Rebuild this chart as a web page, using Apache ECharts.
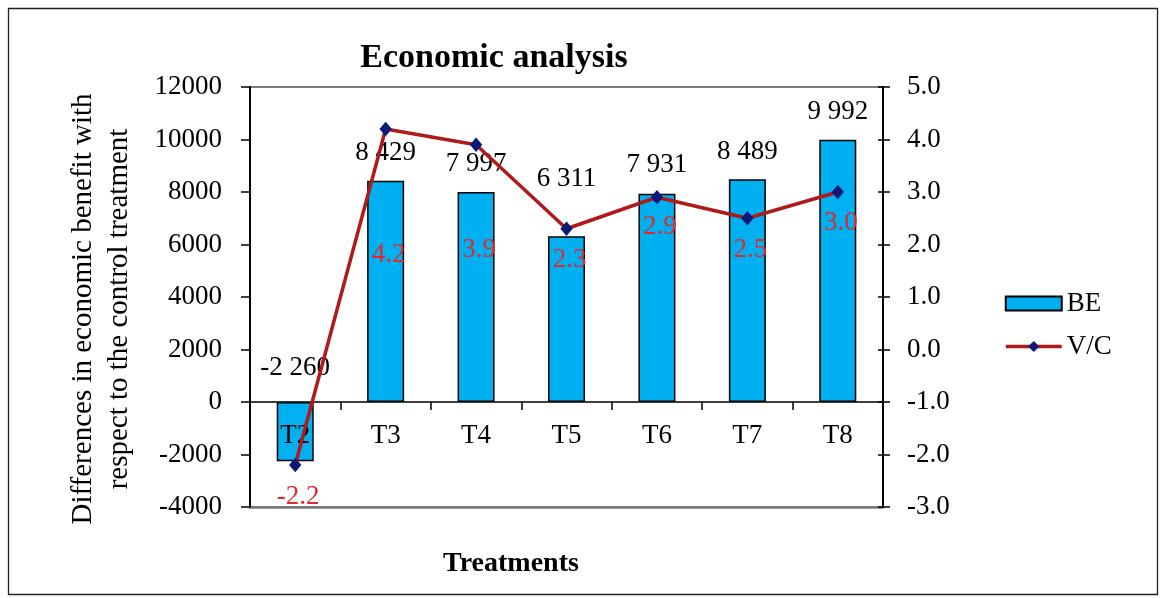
<!DOCTYPE html>
<html>
<head>
<meta charset="utf-8">
<title>Economic analysis</title>
<script src="https://cdn.jsdelivr.net/npm/echarts@6/dist/echarts.min.js"></script>
<style>
  html, body { margin: 0; padding: 0; background: #ffffff; }
  #chart { width: 1164px; height: 598px; }
</style>
</head>
<body>
<div id="chart"></div>
<script>
// Treatments on the category axis
const categories = ['T2', 'T3', 'T4', 'T5', 'T6', 'T7', 'T8'];
// BE: difference in economic benefit vs. the control treatment (bars, left axis)
const beValues = [-2260, 8429, 7997, 6311, 7931, 8489, 9992];
// V/C: value-to-cost ratio (line, right axis)
const vcValues = [-2.2, 4.2, 3.9, 2.3, 2.9, 2.5, 3.0];

// Axis ranges
const beAxis = { min: -4000, max: 12000, interval: 2000 };
const vcAxis = { min: -3, max: 5, interval: 1 };

// Label placement tweaks (distance above each bar, shift below each line point)
const beLabelGap = [21, 14, 15, 44, 15, 14, 14];
const vcLabelShift = [32, 126, 105, 31, 30, 32, 31];

const FONT = '"Liberation Serif", "Times New Roman", serif';

// Plot area
const GRID = { left: 250, right: 281, top: 87, bottom: 91 };
const plotHeight = 598 - GRID.top - GRID.bottom;
// Distance from the top of the plot down to where the left axis reads zero
const zeroDrop = (beAxis.max - 0) / (beAxis.max - beAxis.min) * plotHeight;

function spaced(v) {
  const s = String(Math.abs(v)).replace(/\B(?=(\d{3})+(?!\d))/g, ' ');
  return (v < 0 ? '-' : '') + s;
}

const chart = echarts.init(document.getElementById('chart'), null, { renderer: 'canvas' });

const option = {
  backgroundColor: '#ffffff',
  animation: false,
  title: [
    {
      text: 'Economic analysis',
      left: 494, top: 41, padding: 0, textAlign: 'center',
      textStyle: { fontFamily: FONT, fontSize: 34, fontWeight: 'bold', color: '#000' }
    },
    {
      text: 'Treatments',
      left: 511, top: 550, padding: 0, textAlign: 'center',
      textStyle: { fontFamily: FONT, fontSize: 28, fontWeight: 'bold', color: '#000' }
    }
  ],
  legend: {
    orient: 'vertical',
    left: 999, top: 285,
    itemWidth: 56, itemHeight: 14, itemGap: 16,
    textStyle: { fontFamily: FONT, fontSize: 27, color: '#000' },
    lineStyle: { width: 3.5 },
    data: [{ name: 'BE', icon: 'rect' }, { name: 'V/C' }]
  },
  grid: {
    left: GRID.left, right: GRID.right, top: GRID.top, bottom: GRID.bottom,
    show: true, borderColor: '#7a7a7a', borderWidth: 2
  },
  xAxis: [
    {
      // category axis lying on the zero of the left value axis
      type: 'category',
      data: categories,
      position: 'top',
      offset: -zeroDrop,
      z: 3,
      axisLine: { onZero: false, lineStyle: { color: '#000', width: 1.5 } },
      axisTick: { show: true, inside: true, length: 8, lineStyle: { color: '#000', width: 1.5 } },
      axisLabel: { inside: true, margin: 20, fontFamily: FONT, fontSize: 27, color: '#000' },
      splitLine: { show: false }
    },
    {
      // lower edge of the plot frame
      type: 'category',
      data: categories,
      position: 'bottom',
      axisLine: { show: true, onZero: false, lineStyle: { color: '#7a7a7a', width: 2.5 } },
      axisTick: { show: false },
      axisLabel: { show: false },
      splitLine: { show: false }
    }
  ],
  yAxis: [
    {
      type: 'value',
      position: 'left',
      min: beAxis.min, max: beAxis.max, interval: beAxis.interval,
      name: 'Differences in economic benefit with\nrespect to the control treatment',
      nameLocation: 'middle', nameRotate: 90, nameGap: 113,
      nameTextStyle: { fontFamily: FONT, fontSize: 29, color: '#000', lineHeight: 36, padding: [0, 24, 0, 0] },
      z: 3,
      axisLine: { show: true, lineStyle: { color: '#000', width: 2 } },
      axisTick: { show: true, inside: false, length: 9, lineStyle: { color: '#000', width: 1.5 } },
      axisLabel: { margin: 28, fontFamily: FONT, fontSize: 27, color: '#000', formatter: v => String(v) },
      splitLine: { show: false }
    },
    {
      type: 'value',
      position: 'right',
      min: vcAxis.min, max: vcAxis.max, interval: vcAxis.interval,
      z: 3,
      axisLine: { show: true, lineStyle: { color: '#000', width: 2 } },
      axisTick: { show: true, inside: false, length: 7, lineStyle: { color: '#000', width: 1.5 } },
      axisLabel: { margin: 24, fontFamily: FONT, fontSize: 27, color: '#000', formatter: v => v.toFixed(1) },
      splitLine: { show: false }
    },
    {
      // inner half of the crossing ticks on the right axis
      type: 'value',
      position: 'right',
      min: vcAxis.min, max: vcAxis.max, interval: vcAxis.interval,
      axisLine: { show: false },
      axisTick: { show: true, inside: true, length: 5, lineStyle: { color: '#000', width: 1.5 } },
      axisLabel: { show: false },
      splitLine: { show: false }
    }
  ],
  series: [
    {
      name: 'BE',
      type: 'bar',
      xAxisIndex: 0,
      yAxisIndex: 0,
      barWidth: 37,
      itemStyle: { color: '#00B0F0', borderColor: '#000', borderWidth: 1.5 },
      data: beValues.map((v, i) => ({
        value: v,
        label: {
          show: true, position: 'top', distance: beLabelGap[i],
          fontFamily: FONT, fontSize: 27, color: '#000',
          formatter: p => spaced(p.value)
        }
      })),
      z: 2
    },
    {
      name: 'V/C',
      type: 'line',
      xAxisIndex: 0,
      yAxisIndex: 1,
      symbol: 'diamond',
      symbolSize: [11, 13],
      lineStyle: { color: '#B01A1A', width: 3.5 },
      itemStyle: { color: '#0B1A78', borderColor: '#0B1A78' },
      data: vcValues.map((v, i) => ({
        value: v,
        label: {
          show: true, position: 'inside', offset: [3, vcLabelShift[i]],
          fontFamily: FONT, fontSize: 27, color: '#E0282E',
          formatter: p => p.value.toFixed(1)
        }
      })),
      z: 4
    }
  ],
  graphic: [
    {
      type: 'rect',
      shape: { x: 8.5, y: 8.5, width: 1149, height: 586 },
      style: { fill: 'none', stroke: '#222', lineWidth: 1.3 },
      silent: true
    }
  ]
};

chart.setOption(option);
</script>
</body>
</html>
